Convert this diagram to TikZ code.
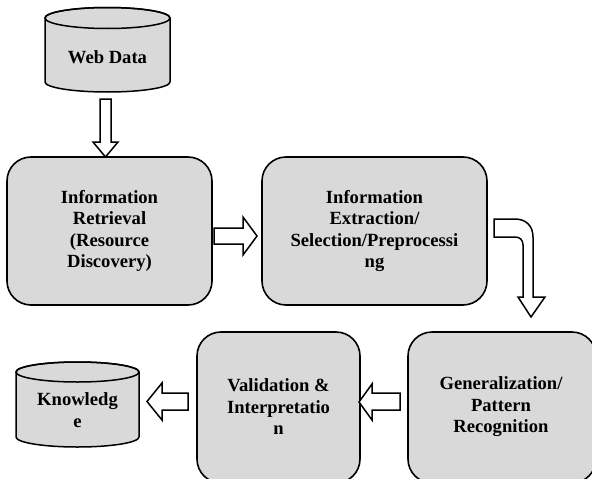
\documentclass[tikz,border=0pt]{standalone}
\usepackage{fontspec}
\setmainfont{Liberation Serif}
\definecolor{boxgray}{HTML}{D9D9D9}
\begin{document}
\begin{tikzpicture}[x=1pt,y=-1pt,
  stagebox/.style={draw=black, line width=1.6pt, fill=boxgray, rounded corners=24pt},
  stagetext/.style={align=center, font=\fontsize{18.6}{21.5}\selectfont\bfseries},
  blockarrow/.style={draw=black, line width=1.5pt, fill=white, line join=miter},
  drum/.style={draw=black, line width=1.5pt, fill=boxgray}]
\clip (0,0) rectangle (592,479);
\fill[white] (0,0) rectangle (592,479);

% Web Data cylinder
\path[drum] (45,18) -- (45,82) arc[start angle=180, end angle=360, x radius=62.5pt, y radius=10pt] -- (170,18) arc[start angle=0, end angle=180, x radius=62.5pt, y radius=10.5pt] -- cycle;
\draw[line width=1.5pt] (107.5,18) ellipse[x radius=62.5pt, y radius=10.5pt];
\node[stagetext] (web) at (107.5,57) {Web Data};

% Knowledge cylinder
\path[drum] (16,372) -- (16,437) arc[start angle=180, end angle=360, x radius=61.5pt, y radius=10pt] -- (139,372) arc[start angle=0, end angle=180, x radius=61.5pt, y radius=10pt] -- cycle;
\draw[line width=1.5pt] (77.5,372) ellipse[x radius=61.5pt, y radius=10pt];
\node[stagetext] (know) at (77.5,410) {Knowledg\\e};

% Stage boxes
\draw[stagebox] (7,157) rectangle (212,305);
\node[stagetext] (ir) at (109.5,231) {Information\\Retrieval\\(Resource\\Discovery)};
\draw[stagebox] (262,157) rectangle (487,305);
\node[stagetext] (ie) at (374.5,231) {Information\\Extraction/\\Selection/Preprocessi\\ng};
\draw[stagebox] (408,332) rectangle (596,483);
\node[stagetext] (gen) at (501,407) {Generalization/\\Pattern\\Recognition};
\draw[stagebox] (197,332) rectangle (360,483);
\node[stagetext] (val) at (278.5,407) {Validation \&\\Interpretatio\\n};

% Block arrows
\draw[blockarrow] (100,99) -- (111,99) -- (111,142) -- (118,142) -- (105.5,157) -- (93,142) -- (100,142) -- cycle;
\draw[blockarrow] (214,228) -- (243,228) -- (243,217) -- (257,236) -- (243,255) -- (243,244) -- (214,244) -- cycle;
\draw[blockarrow] (494,219) -- (515,219) .. controls (526,219) and (533,226) .. (533,237) -- (533,297) -- (545,297) -- (531,317) -- (518,297) -- (523,297) -- (523,245) .. controls (523,240) and (520,237) .. (515,237) -- (494,237) -- cycle;
\draw[blockarrow] (400,393) -- (372,393) -- (372,384) -- (359,402) -- (372,420) -- (372,410) -- (400,410) -- cycle;
\draw[blockarrow] (188,393) -- (162,393) -- (162,383) -- (147,401.5) -- (162,420) -- (162,410) -- (188,410) -- cycle;
\end{tikzpicture}
\end{document}
